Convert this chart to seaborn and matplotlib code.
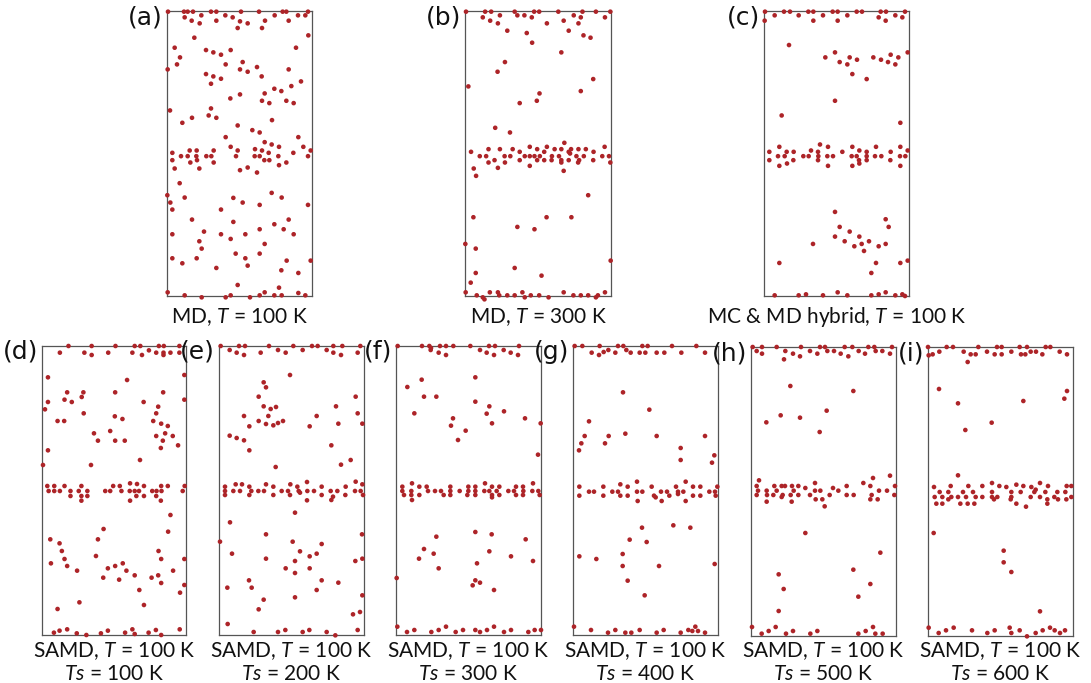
import numpy as np
import pandas as pd
import matplotlib
matplotlib.use("Agg")
import matplotlib.pyplot as plt
import seaborn as sns

# ---------------- data: atom positions (lateral x, depth z) in Angstrom ----------------
pts_a = [(0.3,0.2),(5.1,0.2),(6.2,0.2),(7.8,0.2),(13.2,0.2),(14.8,0.2),(22.2,0.2),(27.6,0.2),(34.7,0.2),(35.8,0.2),(42.3,0.2),
(5.3,1.9),(10.3,1.3),(17.5,1.3),(32.3,1.3),(39.3,1.3),(41.5,1.3),(19.7,1.9),
(7.4,2.9),(14.8,2.9),(29.4,2.9),(36.5,2.9),(9.8,3.7),(24.2,3.7),(21.9,3.1),(21.2,5.1),(28.5,5.1),
(42.4,7.3),(8.2,8.0),
(2.3,11.0),(38.7,11.0),(11.7,11.7),(13.9,12.4),(16.2,13.1),(19.1,11.7),
(3.9,13.9),(3.0,16.0),(22.7,15.3),(17.6,16.0),(0.2,17.5),(21.9,17.5),(24.2,18.2),(27.0,16.8),(36.5,17.5),(11.7,18.9),(13.9,19.6),(16.2,20.3),(13.2,21.8),(28.4,19.6),(40.2,21.1),(37.3,22.5),(32.2,23.3),(34.3,24.0),(29.3,24.7),(21.9,25.0),(19.0,26.2),(35.8,26.9),(28.5,26.9),(30.7,27.6),(38.0,27.6),
(13.2,29.2),(0.9,29.8),(12.5,31.3),(7.5,32.0),(14.8,32.0),(31.5,32.7),(4.6,33.5),(21.2,34.3),
(25.6,35.7),(27.8,36.4),(17.6,37.8),(39.4,37.8),(29.3,39.3),(31.4,40.0),(19.1,40.7),(33.6,40.7),(40.9,40.7),(26.4,41.4),
(14.0,41.8),(21.2,41.8),(6.8,41.8),(8.9,41.8),(28.5,41.8),(43.1,41.8),
(1.6,42.5),(30.5,42.5),(37.9,42.5),
(4.2,43.5),(6.2,43.5),(8.8,43.5),(11.8,43.5),(13.3,43.5),(20.7,43.5),(26.3,43.5),(27.8,43.5),(33.4,43.5),(42.3,43.5),
(1.6,44.7),(7.0,45.4),(9.0,44.7),(14.0,45.4),(29.2,44.7),(30.7,44.7),(35.8,45.4),(33.6,46.2),
(2.3,47.2),(9.7,47.2),(24.2,46.9),(21.9,47.7),(27.0,48.4),
(3.8,51.6),(0.1,55.2),(31.4,54.5),(5.3,55.9),(19.9,56.0),(34.4,55.9),(1.0,57.4),(22.7,57.4),(27.8,58.1),(42.3,58.1),(1.6,59.5),(16.2,59.5),
(7.5,62.5),(19.9,63.2),(36.5,62.5),(32.2,63.9),(35.0,65.4),(11.1,66.1),(1.6,66.9),(16.2,66.9),(23.5,66.9),(19.1,68.3),(27.8,65.4),(38.0,66.9),(9.7,69.0),(29.3,69.8),(10.4,71.2),(20.6,72.7),(27.8,72.7),(1.6,74.1),(8.9,74.1),(23.5,74.1),(35.9,74.8),(43.1,74.8),(4.6,75.6),(24.2,76.3),(14.8,77.0),(34.3,77.7),(39.4,78.5),
(21.2,82.1),(33.6,82.9),(0.2,84.3),(29.3,84.3),(5.3,85.2),(19.1,85.2),(32.2,85.2),(34.4,85.2),(10.4,85.8),(17.6,85.8),(24.9,85.8),(27.8,85.2),(39.4,84.5),(41.5,85.2)]

pts_b = [(0.3,0.2),(6.0,0.2),(7.8,0.2),(14.8,0.2),(20.6,0.2),(22.1,0.2),(27.8,0.2),(35.0,0.2),(39.0,0.2),(43.3,0.2),
(10.4,1.3),(15.6,1.3),(17.7,1.3),(32.4,1.3),(5.3,1.9),(19.9,1.9),(34.5,1.9),(41.7,1.9),
(7.5,2.9),(29.4,2.9),(9.8,3.7),(24.4,3.7),(33.8,3.7),(12.6,5.9),(30.9,5.9),
(18.4,6.6),(35.3,7.3),(37.4,8.0),(20.0,9.5),(28.7,12.4),(11.9,15.3),(9.7,18.2),(38.2,20.4),(1.0,22.6),(34.5,24.0),(22.2,24.7),(21.4,26.9),(16.3,27.6),(9.0,35.0),(13.4,36.4),
(29.6,39.5),(19.3,40.7),(24.4,40.7),(41.6,40.7),
(7.0,41.4),(10.4,41.4),(14.2,41.4),(21.5,41.4),(26.7,41.4),(28.7,41.4),(31.6,41.4),(33.8,41.4),(36.0,41.4),
(1.8,42.2),(16.3,42.2),(23.6,42.2),(30.9,42.2),(38.3,42.2),(31.3,42.7),
(4.4,43.5),(6.3,43.5),(11.8,43.5),(13.5,43.5),(17.8,43.5),(19.3,43.5),(20.7,43.5),(22.3,43.5),(25.9,43.5),(28.0,43.5),(33.2,43.5),(35.4,43.5),(40.9,43.5),(42.9,43.5),
(8.8,44.7),(16.3,44.7),(21.5,44.7),(23.6,44.7),(25.8,44.7),(28.7,44.7),(30.9,44.7),(34.0,44.7),(38.2,44.7),
(7.0,45.4),(11.9,45.4),(28.7,45.4),(43.3,45.4),(33.7,45.4),
(19.3,46.4),(2.6,47.2),(9.8,47.0),(29.4,47.9),(3.3,49.4),
(36.7,55.2),(2.5,61.8),(24.3,61.8),(31.7,61.8),(15.6,64.7),(20.7,65.4),(0.1,69.8),(3.2,71.2),(43.4,74.8),(14.8,77.0),(3.2,78.5),(22.8,79.3),(1.7,81.4),
(0.2,84.3),(7.4,84.3),(9.8,84.3),(17.1,84.3),(29.4,84.3),(41.7,84.3),
(3.5,85.2),(10.2,85.2),(12.6,85.2),(14.8,85.2),(19.6,85.2),(22.1,85.2),(32.3,85.2),(34.5,85.2),(36.7,85.2),(39.6,85.2),
(5.3,85.8),(17.8,85.8),(24.9,85.8),(39.0,85.8),(5.8,86.4)]

pts_c = [(0.3,0.2),(6.0,0.2),(7.8,0.2),(13.3,0.2),(14.8,0.2),(20.6,0.2),(22.1,0.2),(27.8,0.2),(29.4,0.2),(35.0,0.2),(36.6,0.2),(42.3,0.2),
(3.2,1.3),(10.4,1.3),(17.7,1.3),(25.0,1.3),(39.4,1.3),(34.4,1.9),(41.5,1.9),
(0.2,2.9),(14.8,2.9),(22.1,2.9),(36.5,2.9),
(7.5,10.2),(21.3,12.4),(43.1,12.4),(18.4,13.9),(25.7,13.9),(32.8,13.9),(38.0,13.1),(40.3,13.9),(27.9,14.6),(35.1,14.6),(22.7,15.3),(37.2,15.3),(25.0,16.0),(39.4,16.0),(26.5,18.9),(30.8,20.4),(21.3,26.9),(5.3,31.3),(40.9,33.5),
(16.8,40.0),(4.6,40.7),(19.2,40.7),(26.5,40.7),(33.6,40.7),(40.9,40.7),
(14.1,41.8),(28.6,41.8),(43.1,41.8),
(1.6,42.2),(6.8,42.2),(8.9,42.2),(16.2,42.2),(23.5,42.2),(30.8,42.2),(38.0,42.2),
(4.2,43.5),(6.2,43.5),(11.8,43.5),(13.4,43.5),(16.3,43.5),(19.0,43.5),(20.7,43.5),(26.3,43.5),(27.8,43.5),(30.8,43.5),(33.3,43.5),(35.2,43.5),(40.8,43.5),(42.4,43.5),
(1.6,44.7),(8.8,44.7),(16.2,44.7),(28.5,44.7),(30.8,44.7),(37.9,44.7),
(6.9,45.7),(28.6,45.7),(4.6,46.4),(19.2,46.4),(26.5,46.4),(40.9,46.4),
(21.3,60.2),(36.5,62.4),(22.7,64.7),(37.4,64.7),(25.7,66.1),(21.3,67.6),(28.6,67.6),(24.2,69.0),(31.5,69.0),(29.3,69.8),(14.7,69.8),(36.5,69.8),(27.1,70.5),(34.4,70.5),(30.0,71.9),(4.6,75.5),(33.6,75.5),(40.9,75.5),(43.1,74.8),(32.2,78.5),
(3.2,85.2),(10.4,85.2),(17.7,85.2),(25.0,85.2),(32.2,85.2),(39.4,85.2),(22.1,84.3),(36.5,84.3),(12.6,84.9),(34.4,84.9),(41.5,84.9),(42.3,85.4)]

pts_d = [(8.0,0.0),(15.0,0.0),(22.2,0.0),(28.0,0.0),(29.7,0.0),(35.3,0.0),(36.8,0.0),(41.5,0.0),
(5.4,2.0),(12.8,2.0),(20.0,2.0),(27.3,2.0),(34.5,2.0),(38.8,2.0),(41.5,2.0),(32.3,1.3),(36.7,2.0),
(15.0,2.7),(30.2,2.7),(36.7,2.7),
(43.0,8.7),(1.8,9.4),(25.7,10.2),(7.6,13.9),(12.5,13.9),(22.1,13.9),(36.6,13.9),
(12.0,15.3),(6.8,16.1),(43.0,16.1),(1.8,16.8),(9.0,16.8),(30.7,16.8),(35.1,18.2),(0.9,19.0),(34.5,20.2),(12.6,20.2),(22.0,21.1),(24.3,21.9),(4.7,22.5),(6.7,22.5),(33.6,22.5),(36.0,23.3),(38.0,24.0),(20.6,25.5),(15.7,26.2),(37.2,26.2),(39.5,27.0),(34.5,27.0),(16.9,28.4),(22.1,28.4),(25.0,28.4),(36.5,28.4),(41.1,29.8),(35.9,30.6),(1.8,31.3),(29.6,34.2),(0.3,35.7),(14.8,35.7),
(1.6,42.0),(3.7,42.0),(6.8,42.0),(11.9,42.0),(21.5,42.0),(23.5,42.0),(30.8,42.0),(36.0,42.0),(38.0,42.0),(43.1,42.0),(26.6,41.2),(28.7,41.4),
(2.0,43.5),(3.7,43.5),(5.4,43.5),(8.6,43.5),(11.1,43.5),(13.7,43.5),(19.1,43.5),(20.6,43.5),(24.0,43.5),(26.5,43.5),(28.0,43.5),(29.3,43.5),(33.3,43.5),(34.6,43.5),(36.1,43.5),(42.5,43.5),
(8.6,45.0),(11.9,45.0),(13.7,45.0),(28.5,45.0),(30.8,45.0),(34.5,45.0),
(11.9,46.4),(26.6,46.4),(35.9,46.4),
(38.8,50.7),(18.6,54.9),(38.1,55.7),(2.5,58.0),(16.9,58.0),(5.3,59.2),(6.0,61.5),(16.3,63.0),(35.2,61.5),(6.8,63.9),(36.0,63.9),(2.7,65.2),(43.0,63.9),(7.6,66.0),(24.4,65.2),(19.9,66.7),(22.1,66.0),(10.6,67.4),(25.5,67.4),(39.6,67.4),(18.5,69.5),(28.0,68.8),(33.1,69.5),(35.1,68.8),(23.3,70.1),(36.0,71.1),(43.0,71.7),(29.4,73.2),(41.7,74.0),(11.3,76.9),(30.8,77.7),(4.7,78.9),
(3.6,86.0),(5.3,85.4),(7.6,85.0),(10.5,86.2),(13.4,86.7),(17.8,86.2),(19.9,85.4),(25.1,86.0),(27.3,85.0),(28.0,86.4),(32.2,86.0),(34.4,85.2),(36.0,86.7),(41.6,85.0)]

pts_e = [(0.5,0.0),(6.0,0.0),(7.8,0.0),(15.0,0.0),(22.3,0.0),(27.9,0.0),(29.6,0.0),(34.3,0.0),(37.0,0.0),(42.4,0.0),
(3.2,1.2),(17.7,1.2),(25.1,1.2),(32.3,1.2),(5.3,2.0),(12.5,2.0),(20.0,2.0),(34.3,2.0),(41.6,2.0),(7.5,2.7),(36.6,2.7),
(21.3,8.7),(13.4,10.9),(14.1,12.4),(11.9,15.2),(41.0,15.2),(13.4,18.1),(35.1,18.1),(15.5,18.9),(17.1,18.3),(41.6,20.2),(14.8,21.0),(7.5,21.0),(29.3,21.0),(11.9,22.5),(19.2,22.5),(17.7,23.1),(14.1,23.4),(16.3,23.8),(9.1,24.1),(27.2,24.1),(35.8,23.3),(43.0,23.3),(3.2,26.9),(5.3,27.6),(7.5,28.3),(33.7,29.8),(9.1,31.3),(39.5,34.2),(36.6,35.6),(17.0,36.3),
(41.0,40.7),(5.0,41.5),(6.9,41.5),(14.1,41.5),(21.4,41.5),(43.0,41.5),(1.8,42.2),(9.1,42.2),(16.3,42.2),(23.5,42.2),(30.8,42.2),(38.0,42.2),(26.4,40.8),
(1.8,43.5),(4.3,43.5),(6.3,43.5),(9.7,43.5),(11.8,43.5),(13.5,43.5),(18.8,43.5),(20.7,43.5),(23.9,43.5),(26.5,43.5),(28.5,43.5),(33.5,43.5),(35.5,43.5),(40.8,43.5),(42.5,43.5),
(1.8,44.7),(9.1,44.7),(16.3,44.7),(21.3,44.7),(30.8,44.7),(37.9,44.7),(43.2,44.7),
(24.3,44.0),(34.2,45.2),(33.7,46.2),(26.4,46.3),
(22.8,50.0),(3.3,52.9),(14.1,56.5),(42.9,56.5),(0.3,58.7),(22.1,58.7),(30.8,59.4),(24.3,61.6),(3.9,62.3),(29.3,62.3),(27.2,63.1),(14.1,63.8),(22.8,64.5),(40.9,64.5),(43.0,63.8),(20.0,66.7),(27.2,66.7),(22.8,68.1),(9.0,70.3),(30.8,70.3),(35.8,71.0),(2.5,72.5),(9.8,72.5),(29.3,73.2),(43.0,74.8),(22.8,75.4),(13.4,76.1),(11.9,79.0),(42.3,79.8),(40.2,80.5),(2.6,83.4),
(10.4,85.8),(17.7,85.8),(25.1,85.8),(32.3,85.8),(19.9,85.2),(27.1,85.2),(41.6,85.2),(34.9,86.8)]

pts_f = [(0.5,0.0),(7.8,0.0),(10.0,0.0),(13.2,0.0),(15.0,0.0),(17.2,0.0),(22.3,0.0),(27.9,0.0),(29.7,0.0),(36.9,0.0),
(10.5,0.6),(10.4,1.2),(25.2,1.2),(32.3,1.2),(12.8,2.0),(27.2,2.0),(34.4,2.0),(15.0,2.7),(29.4,2.7),(36.6,2.7),
(23.8,9.4),(7.7,10.1),(3.4,12.3),(8.4,15.2),(12.1,15.2),(23.8,16.7),(28.0,18.1),(32.4,19.6),(5.5,20.2),(27.2,20.3),(17.1,21.7),(38.7,21.7),(28.8,23.2),(43.4,23.2),(16.5,23.9),(20.9,25.4),(18.6,28.2),(42.6,32.6),
(4.8,41.2),(26.7,41.2),(41.1,41.2),
(1.9,42.2),(7.0,42.2),(9.2,42.2),(16.3,42.2),(21.7,42.2),(23.8,42.2),(28.8,42.2),(31.0,42.2),(36.0,42.2),(38.1,42.2),
(1.9,43.5),(4.6,43.5),(9.6,43.5),(11.7,43.5),(13.5,43.5),(16.3,43.5),(19.1,43.5),(21.7,43.5),(23.8,43.5),(26.5,43.5),(28.0,43.5),(30.2,43.5),(33.7,43.5),(35.4,43.5),(38.2,43.5),(40.9,43.5),(42.7,43.5),
(2.4,44.7),(4.6,44.7),(7.0,44.7),(14.3,44.7),(16.3,44.7),(21.4,44.7),(23.8,44.7),(28.8,44.7),(31.0,44.7),(36.0,44.7),(38.1,44.7),(43.1,44.7),
(4.8,46.2),(28.8,45.4),
(23.8,55.8),(28.7,56.5),(12.1,57.2),(38.9,58.0),(8.4,60.9),(28.0,61.6),(11.3,62.3),(34.5,63.1),(6.9,63.8),(41.1,64.5),(24.3,65.2),(12.8,66.7),(0.2,69.6),(23.8,70.3),(25.2,71.0),(23.0,71.8),(29.4,73.2),
(0.4,84.2),(15.0,84.2),(29.4,84.2),(5.5,85.2),(12.8,85.2),(20.1,85.2),(23.8,85.2),(27.3,85.2),(34.5,85.2),(41.6,85.2),(43.5,85.2),
(3.3,85.8),(10.6,85.8),(17.9,85.8),(25.2,85.8),(32.4,85.8),(39.7,85.8)]

pts_g = [(0.5,0.0),(2.8,0.0),(8.0,0.0),(13.5,0.0),(15.1,0.0),(20.8,0.0),(22.4,0.0),(29.7,0.0),(37.0,0.0),
(10.6,1.2),(9.2,1.8),(16.0,1.2),
(5.6,2.0),(12.7,2.0),(17.3,2.0),(20.0,2.0),(21.7,2.0),(25.1,2.0),(27.4,2.0),(32.5,2.0),(39.6,2.0),(7.8,2.7),
(15.0,13.9),(22.9,19.1),(4.8,22.6),(15.7,26.3),(3.5,27.0),(10.7,27.0),(25.1,27.0),(39.6,27.0),(2.5,29.2),(9.6,29.2),(32.3,30.6),(1.8,31.3),(42.4,32.8),(32.3,34.2),(41.7,35.0),
(19.2,40.7),(33.8,40.7),(14.2,41.5),
(1.9,42.2),(9.1,42.2),(16.4,42.2),(23.6,42.2),(30.9,42.2),(36.0,42.2),(38.2,42.2),(43.3,42.2),
(4.8,43.7),(6.3,43.7),(11.8,43.7),(13.5,43.7),(19.2,43.7),(20.8,43.7),(26.4,43.7),(28.2,43.7),(31.5,43.7),(33.1,43.7),(40.9,43.7),(42.6,43.7),
(1.9,44.9),(9.1,44.9),(14.2,44.9),(16.4,44.9),(24.3,44.9),(28.9,44.9),(36.0,44.9),(38.2,44.9),(42.8,44.9),
(24.8,45.4),(31.5,44.4),(19.4,46.5),(26.6,46.5),(33.8,46.5),
(30.1,53.8),(20.7,54.5),(35.2,54.5),(17.0,58.1),(22.1,58.8),(14.9,62.4),(1.9,63.1),(7.0,63.9),(14.9,66.0),(25.8,66.0),(42.5,65.4),(16.4,70.4),(21.5,74.8),
(0.3,84.2),(5.4,85.2),(12.7,85.2),(20.0,85.2),(27.2,85.2),(34.6,85.2),(36.7,84.2),
(10.5,86.0),(15.7,86.0),(17.5,86.0),(25.1,86.0),(32.3,86.0),(39.6,86.0),(35.8,85.5),(37.5,85.5)]

pts_h = [(0.5,0.0),(3.3,0.0),(7.7,0.0),(15.0,0.0),(20.7,0.0),(22.2,0.0),(28.1,0.0),(30.4,0.0),(35.2,0.0),(37.0,0.0),(42.3,0.0),
(1.7,1.2),(10.3,1.2),(17.7,1.2),(22.9,1.2),(24.9,1.2),(32.3,1.2),(37.4,1.2),(39.4,1.2),
(3.3,2.0),(12.6,2.0),(19.9,2.0),(26.9,2.0),(34.2,2.0),(41.7,2.0),(14.7,2.8),(29.2,2.8),(9.9,3.7),
(11.8,11.7),(30.7,13.2),(22.7,19.1),(8.9,20.5),(14.7,21.2),(4.6,22.6),(20.6,25.5),
(41.7,38.6),(36.6,39.3),(2.4,40.0),(19.2,40.8),(33.7,40.8),
(1.7,41.7),(7.0,41.7),(9.2,41.7),(10.2,41.7),(12.3,41.7),(14.2,41.7),(28.7,41.7),(35.8,41.7),(43.2,41.7),
(16.3,42.3),(24.6,42.3),
(2.1,43.1),(4.7,43.1),(7.7,43.1),(12.8,43.1),(19.2,43.1),(20.8,43.1),(26.2,43.1),(38.4,43.1),(40.8,43.1),
(1.7,44.4),(4.8,44.4),(6.7,44.4),(9.5,44.4),(11.9,44.4),(14.2,44.4),(17.7,44.4),(23.6,44.4),(28.7,44.4),(30.8,44.4),(36.2,44.4),(43.0,44.4),
(19.4,45.7),(21.4,45.7),(35.8,45.7),(38.0,45.7),(9.2,45.0),(4.7,46.4),(12.2,46.4),(22.1,47.8),
(16.3,55.8),(38.8,61.7),(30.7,66.8),(8.3,68.2),(35.8,71.1),(9.8,72.6),(32.2,74.9),(8.3,79.2),
(0.3,84.0),(7.4,84.0),(36.6,84.0),(5.3,85.2),(12.6,85.2),(19.9,85.2),(34.4,85.2),
(3.2,86.0),(10.5,86.0),(17.8,86.0),(32.2,86.0),(37.3,86.0),(39.5,86.0)]

pts_i = [(0.0,0.0),(5.6,0.0),(7.5,0.0),(15.1,0.0),(20.7,0.0),(22.1,0.0),(27.5,0.0),(29.7,0.0),(35.3,0.0),(36.7,0.0),
(3.4,1.4),(10.7,1.4),(17.7,1.4),(25.0,1.4),(30.8,1.4),(32.4,1.4),(39.5,1.4),
(1.4,2.2),(12.8,2.2),(14.3,2.2),(20.0,2.2),(22.1,2.2),(27.9,2.2),(29.2,2.2),(34.3,2.2),(41.7,2.2),(0.2,2.5),(11.9,4.5),
(3.3,12.6),(41.7,13.2),(40.9,15.5),(28.6,16.2),(9.0,16.9),(19.1,22.7),(11.2,24.9),
(9.0,38.5),(19.2,40.8),(33.6,40.8),(26.5,41.3),
(6.8,41.7),(12.1,41.7),(16.3,41.7),(21.4,41.7),(28.6,41.7),(36.0,41.7),(41.6,41.7),(43.0,41.7),
(1.8,42.0),(23.5,42.0),(31.0,42.0),(32.3,42.8),
(3.5,43.5),(6.1,43.5),(10.5,43.5),(13.5,43.5),(19.2,43.5),(25.0,43.5),(27.8,43.5),(31.9,43.5),(35.2,43.5),(38.8,43.5),(41.2,43.5),
(2.0,45.0),(4.3,45.0),(7.0,45.0),(9.0,45.0),(11.4,45.0),(14.3,45.0),(16.3,45.0),(19.2,45.0),(20.8,45.0),(25.0,45.0),(30.8,45.0),(33.6,45.0),(37.9,45.0),(43.0,45.0),
(6.1,45.7),(19.8,45.7),(24.8,45.7),(35.8,45.7),(39.0,45.7),(41.5,45.7),
(2.5,47.0),(4.3,47.0),(9.7,47.0),(11.9,47.0),(13.9,47.0),(26.5,47.0),(35.8,47.0),(29.4,47.9),
(1.7,55.8),(22.7,61.1),(22.7,64.6),(25.0,67.5),(33.6,79.3),
(0.2,84.2),(7.7,84.2),(24.5,84.2),(36.6,84.2),(5.4,85.0),(13.2,85.0),(20.0,85.0),(27.5,85.0),(34.4,85.0),(38.0,85.0),(41.1,85.0),
(3.2,85.8),(17.8,85.8),(25.0,85.8),(32.3,85.8),(39.6,85.8),(29.7,86.8)]

panel_tags = ["(a)", "(b)", "(c)", "(d)", "(e)", "(f)", "(g)", "(h)", "(i)"]
panel_points = [pts_a, pts_b, pts_c, pts_d, pts_e, pts_f, pts_g, pts_h, pts_i]
caption_line1 = ["MD, $T$ = 100 K", "MD, $T$ = 300 K", "MC & MD hybrid, $T$ = 100 K",
                 "SAMD, $T$ = 100 K", "SAMD, $T$ = 100 K", "SAMD, $T$ = 100 K",
                 "SAMD, $T$ = 100 K", "SAMD, $T$ = 100 K", "SAMD, $T$ = 100 K"]
caption_line2 = [None, None, None, "$Ts$ = 100 K", "$Ts$ = 200 K", "$Ts$ = 300 K",
                 "$Ts$ = 400 K", "$Ts$ = 500 K", "$Ts$ = 600 K"]

# ---------------- style ----------------
sns.set_theme(style="white")
plt.rcParams["font.family"] = ["Lato", "DejaVu Sans"]
plt.rcParams["mathtext.fontset"] = "custom"
plt.rcParams["mathtext.it"] = "Lato:italic"
plt.rcParams["mathtext.rm"] = "Lato"

W, H = 1091, 683
fig = plt.figure(figsize=(W / 100, H / 100), dpi=100)
fig.patch.set_facecolor("white")

# panel boxes in pixels: (left, top, right, bottom)
boxes = [(167, 11, 312, 296), (465, 11, 611, 296), (764, 11, 909, 296),
         (42, 346, 186, 635), (219, 346, 364, 635), (396, 346, 541, 635),
         (573, 346, 718, 635), (751, 347, 896, 636), (928, 347, 1073, 636)]
x_extent = 43.5
depth_top = 85.4
depth_bottom = 86.7

dot_color = "#ad2428"
text_color = "#111111"

for k, (tag, pts, (l, t, r, b)) in enumerate(zip(panel_tags, panel_points, boxes)):
    ax = fig.add_axes([l / W, 1 - b / H, (r - l) / W, (b - t) / H])
    df = pd.DataFrame(pts, columns=["x", "depth"])
    sns.scatterplot(data=df, x="x", y="depth", ax=ax, s=11, color=dot_color,
                    edgecolor="none", linewidth=0, clip_on=False, legend=False, zorder=3)
    ax.set_xlim(0, x_extent)
    ax.set_ylim(depth_top if k < 3 else depth_bottom, 0)
    ax.set_xticks([])
    ax.set_yticks([])
    ax.set_xlabel("")
    ax.set_ylabel("")
    ax.set_facecolor("white")
    for sp in ax.spines.values():
        sp.set_visible(True)
        sp.set_color("#555555")
        sp.set_linewidth(0.9)
    # panel tag
    fig.text((l - 4) / W, 1 - (t + 13) / H, tag, ha="right", va="baseline",
             fontsize=18, family=["DejaVu Sans"], color=text_color)
    cx = (l + r) / 2 / W
    if k < 3:
        fig.text(cx, 1 - 323 / H, caption_line1[k], ha="center", va="baseline",
                 fontsize=15, color=text_color)
    else:
        fig.text(cx, 1 - 657 / H, caption_line1[k], ha="center", va="baseline",
                 fontsize=15, color=text_color)
        fig.text(cx, 1 - 680 / H, caption_line2[k], ha="center", va="baseline",
                 fontsize=15, color=text_color)

fig.savefig("out.png", dpi=100, facecolor="white")
